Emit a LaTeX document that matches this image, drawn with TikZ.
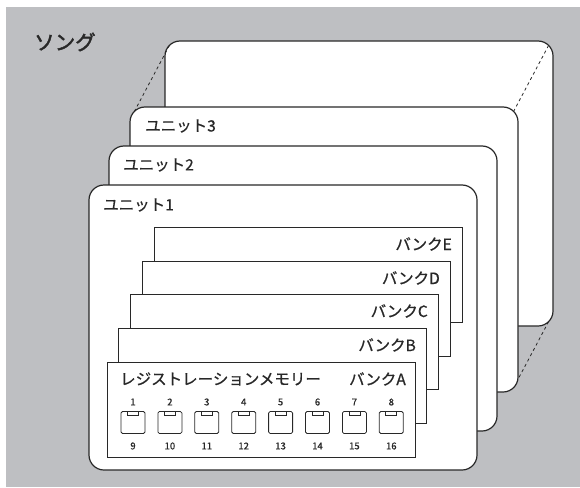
\documentclass[tikz,border=0pt]{standalone}
\usepackage{fontspec}
\setmainfont{Noto Sans CJK JP}
\newfontfamily\titlefont[FakeBold=2]{Noto Sans CJK JP}
\newfontfamily\lblfont[FakeBold=0.8]{Noto Sans CJK JP}
\usetikzlibrary{calc}
\definecolor{bggray}{RGB}{190,191,194}
\definecolor{ink}{RGB}{40,40,40}
\tikzset{
  unitbox/.style={draw=ink, line width=1.2pt, fill=white, rounded corners=15pt, inner sep=0pt, outer sep=0pt,
    minimum width=388pt, minimum height=285pt, anchor=north west},
  bankbox/.style={draw=ink, line width=0.9pt, fill=white, inner sep=0pt, outer sep=0pt,
    minimum width=308pt, minimum height=95pt, anchor=north west},
  dashline/.style={draw=ink, line width=0.8pt, dash pattern=on 3pt off 3pt},
  lbl/.style={inner sep=0pt, font=\lblfont\fontsize{15.5}{15.5}\selectfont, text=ink},
  numlbl/.style={inner sep=0pt, font=\lblfont\fontsize{9.5}{9.5}\selectfont, text=ink},
  btn/.style={draw=ink, line width=0.8pt, fill=white, rounded corners=1.5pt, inner sep=0pt,
    minimum width=24pt, minimum height=22pt},
  btntab/.style={draw=ink, line width=0.7pt, fill=white, inner sep=0pt, minimum width=11pt, minimum height=4pt, anchor=north},
}
\begin{document}
\begin{tikzpicture}[x=1pt,y=-1pt]
\useasboundingbox (0,0) rectangle (580,487);
\fill[bggray] (6,7) rectangle (580,487);
\node[lbl, anchor=west, font=\titlefont\fontsize{20.5}{20.5}\selectfont] (title) at (34,42) {ソング};
% back panel and units
\node[unitbox] (back) at (165,41) {};
\path[dashline] ($(back.north west)+(4.4,4.4)$) -- ($(back.north west)+(-30.6,70.4)$);
\path[dashline] ($(back.north east)+(-4.4,4.4)$) -- ($(back.north east)+(-39.4,70.4)$);
\path[dashline] ($(back.south east)+(-4.4,-4.4)$) -- ($(back.south east)+(-39.4,61.6)$);
\node[unitbox] (u3) at (130,107) {};
\node[lbl, anchor=west] (u3l) at ($(u3.north west)+(15,19)$) {ユニット3};
\node[unitbox] (u2) at (109,146) {};
\node[lbl, anchor=west] (u2l) at ($(u2.north west)+(14,19)$) {ユニット2};
\node[unitbox] (u1) at (89,185) {};
\node[lbl, anchor=west] (u1l) at ($(u1.north west)+(14,20)$) {ユニット1};
% banks
\node[bankbox] (bE) at (154,227) {};
\node[lbl, anchor=east] (bEl) at ($(bE.north east)+(-10,17)$) {バンクE};
\node[bankbox] (bD) at (142,261) {};
\node[lbl, anchor=east] (bDl) at ($(bD.north east)+(-10,17)$) {バンクD};
\node[bankbox] (bC) at (130,294) {};
\node[lbl, anchor=east] (bCl) at ($(bC.north east)+(-10,17)$) {バンクC};
\node[bankbox] (bB) at (118,328) {};
\node[lbl, anchor=east] (bBl) at ($(bB.north east)+(-10,17)$) {バンクB};
\node[bankbox] (bA) at (107,362) {};
\node[lbl, anchor=east] (bAl) at ($(bA.north east)+(-9,17)$) {バンクA};
\node[lbl, anchor=west] (rm) at ($(bA.north west)+(13,17)$) {レジストレーションメモリー};
% buttons
\foreach \i in {1,...,8}{
  \pgfmathsetmacro{\bx}{133+36.9*(\i-1)}
  \pgfmathtruncatemacro{\j}{\i+8}
  \node[btn] (b\i) at (\bx,422.5) {};
  \node[btntab] (t\i) at (b\i.north) {};
  \node[numlbl] (n\i) at (\bx,402) {\i};
  \node[numlbl] (m\i) at (\bx,446) {\j};
}
\end{tikzpicture}
\end{document}
